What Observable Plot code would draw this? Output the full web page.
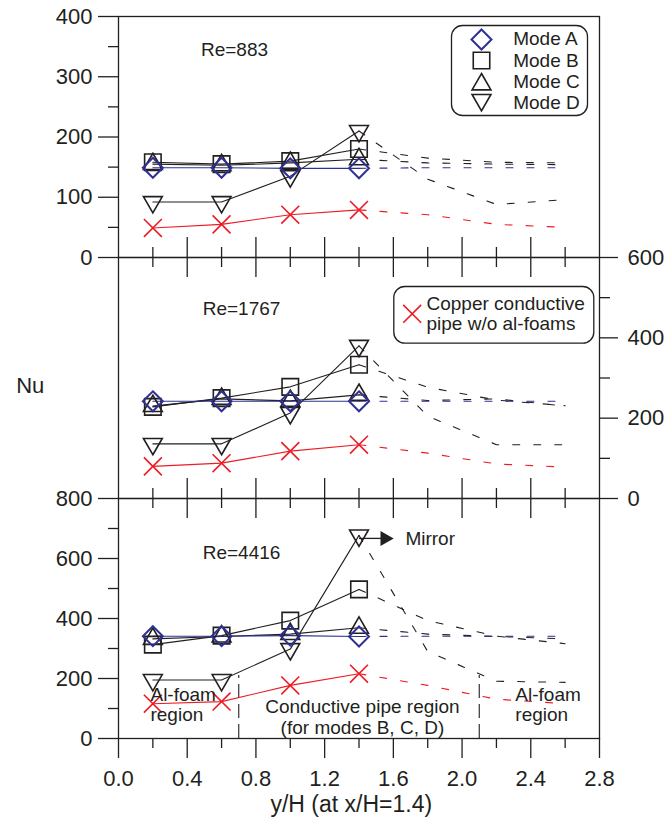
<!DOCTYPE html>
<html><head><meta charset="utf-8">
<script src="https://cdn.jsdelivr.net/npm/d3@7"></script>
<script src="https://cdn.jsdelivr.net/npm/@observablehq/plot@0.6"></script>
<style>
html,body{margin:0;padding:0;background:#fff;}
#chart{position:relative;width:664px;height:819px;}
#chart svg{position:absolute;left:0;overflow:visible !important;background:transparent !important;}
</style></head><body><div id="chart"></div>
<script>
// ---------- data ----------
const xMeasured = [0.2, 0.6, 1.0, 1.4];
const xMirrored = [1.4, 1.8, 2.2, 2.6];
const xMajorTicks = [0, 0.4, 0.8, 1.2, 1.6, 2.0, 2.4, 2.8];
const xMinorTicks = [0.2, 0.6, 1.0, 1.4, 1.8, 2.2, 2.6];
const xInnerMajor = [0.4, 0.8, 1.2, 1.6, 2.0, 2.4];
const legendLabels = ["Mode A", "Mode B", "Mode C", "Mode D"];
const copperLabel = ["Copper conductive", "pipe w/o al-foams"];

// Re = 883 (top panel)
const re883A = [149, 149, 148, 148];
const re883B = [158, 155, 160, 180];
const re883C = [155, 153, 157, 163];
const re883D = [92, 92, 135, 210];
const re883Cu = [49, 55, 71, 79];
const re883A_m = [148, 149, 149, 149];
const re883B_m = [180, 165, 158, 157];
const re883C_m = [163, 157, 155, 154];
const re883D_m = [210, 130, 88, 96];
const re883Cu_m = [79, 71, 55, 50];
const y883Major = [0, 100, 200, 300, 400];
const y883Minor = [50, 150, 250, 350];

// Re = 1767 (middle panel)
const re1767A = [242, 242, 242, 242];
const re1767B = [228, 250, 278, 333];
const re1767C = [230, 248, 243, 258];
const re1767D = [136, 136, 213, 380];
const re1767Cu = [80, 88, 118, 134];
const re1767A_m = [242, 242, 242, 242];
const re1767B_m = [333, 277, 245, 231];
const re1767C_m = [258, 244, 248, 230];
const re1767D_m = [380, 205, 134, 134];
const re1767Cu_m = [134, 113, 86, 78];
const y1767Major = [0, 200, 400, 600];
const y1767Minor = [100, 300, 500];

// Re = 4416 (bottom panel)
const re4416A = [341, 341, 343, 340];
const re4416B = [313, 343, 393, 497];
const re4416C = [332, 340, 348, 369];
const re4416D = [195, 195, 298, 677];
const re4416Cu = [116, 123, 177, 216];
const re4416A_m = [340, 341, 341, 341];
const re4416B_m = [497, 393, 341, 316];
const re4416C_m = [369, 348, 340, 332];
const re4416D_m = [677, 290, 191, 187];
const re4416Cu_m = [216, 177, 131, 116];
const y4416Major = [0, 200, 400, 600, 800];
const y4416Minor = [100, 300, 500, 700];

// annotations (data coordinates)
const regionDividers = [0.7, 2.1];
const regionDividerTop = 210;
const mirrorArrow = {x1: 1.4, x2: 1.56, y: 667};
const notes4416 = [
  {text: "Re=4416", x: 0.49, y: 620, anchor: "start"},
  {text: "Mirror", x: 1.67, y: 664, anchor: "start"},
  {text: "Conductive pipe region", x: 1.42, y: 106, anchor: "middle"},
  {text: "(for modes B, C, D)", x: 1.42, y: 36, anchor: "middle"},
  {text: "Al-foam", x: 0.186, y: 144, anchor: "start"},
  {text: "region", x: 0.186, y: 78, anchor: "start"},
  {text: "Al-foam", x: 2.31, y: 144, anchor: "start"},
  {text: "region", x: 2.31, y: 78, anchor: "start"}
];
const notes883 = [{text: "Re=883", x: 0.48, y: 345, anchor: "start"}];
const notes1767 = [{text: "Re=1767", x: 0.49, y: 471, anchor: "start"}];

// ---------- styles ----------
const FONT = "'Liberation Sans', Arial, Helvetica, sans-serif";
const INK = "#231f20";
const BLUE = "#2e3192";
const RED = "#ed1c24";
const AX = 1.3;

const triDown = {draw(ctx, size) {
  const s = Math.sqrt(size) * 0.6824, t = s / 2, u = s * Math.sqrt(3) / 2;
  ctx.moveTo(0, s); ctx.lineTo(u, -t); ctx.lineTo(-u, -t); ctx.closePath();
}};
const triRight = {draw(ctx, size) {
  const r = Math.sqrt(size / Math.PI);
  ctx.moveTo(r * 1.2, 0); ctx.lineTo(-r, -r * 1.25); ctx.lineTo(-r, r * 1.25); ctx.closePath();
}};

const styles = {
  A: {color: BLUE, symbol: "diamond2", r: 9, sw: 2},
  B: {color: INK, symbol: "square2", r: 10.5, sw: 1.6},
  C: {color: INK, symbol: "triangle2", r: 9, sw: 1.6},
  D: {color: INK, symbol: triDown, r: 9, sw: 1.6},
  Cu: {color: RED, symbol: "times", r: 8.2, sw: 1.6}
};
const order = ["B", "C", "D", "A", "Cu"];

const rows = (xs, vals) => xs.map((x, i) => ({x, y: vals[i]}));

function seriesMarks(measured, mirrored) {
  const m = [];
  for (const k of order) {
    const st = styles[k];
    m.push(Plot.line(rows(xMirrored, mirrored[k]), {x: "x", y: "y", stroke: st.color, strokeWidth: 1.1, strokeDasharray: "7,14"}));
  }
  for (const k of order) {
    const st = styles[k];
    m.push(Plot.line(rows(xMeasured, measured[k]), {x: "x", y: "y", stroke: st.color, strokeWidth: 1.1}));
  }
  for (const k of order) {
    const st = styles[k];
    m.push(Plot.dot(rows(xMeasured, measured[k]), {x: "x", y: "y", symbol: st.symbol, r: st.r, stroke: st.color, strokeWidth: st.sw, fill: "none"}));
  }
  return m;
}

function innerTicks(innerH, side) {
  const o = (len) => side === "bottom" ? {insetTop: innerH - len} : {insetBottom: innerH - len};
  return [
    Plot.tickX(xInnerMajor, {x: d => d, stroke: INK, strokeWidth: AX, ...o(20)}),
    Plot.tickX(xMinorTicks, {x: d => d, stroke: INK, strokeWidth: AX, ...o(10)})
  ];
}

function notesMarks(notes) {
  return ["start", "middle", "end"].map(a =>
    Plot.text(notes.filter(d => d.anchor === a), {x: "x", y: "y", text: "text", textAnchor: a, fontSize: 19, fill: INK, lineAnchor: "middle"}));
}

const W = 664, ML = 118, MR = 65;
const baseStyle = {fontFamily: FONT, fontSize: "22px", color: INK, background: "transparent", overflow: "visible"};

function leftAxis(major, minor) {
  return [
    Plot.axisY(major, {anchor: "left", tickSize: 20, tickPadding: 6, fontSize: 22, label: null, strokeWidth: AX, tickFormat: d3.format("d"), fill: INK}),
    Plot.axisY(minor, {anchor: "left", tickSize: 10, label: null, strokeWidth: AX, tickFormat: () => ""})
  ];
}

// ---------- panel 1 : Re=883 ----------
const p1 = Plot.plot({
  width: W, height: 257, marginLeft: ML, marginRight: MR, marginTop: 16, marginBottom: 0,
  x: {domain: [0, 2.8], axis: null},
  y: {domain: [0, 400]},
  style: baseStyle,
  marks: [
    ...leftAxis(y883Major, y883Minor),
    ...innerTicks(241, "bottom"),
    ...seriesMarks({A: re883A, B: re883B, C: re883C, D: re883D, Cu: re883Cu},
                   {A: re883A_m, B: re883B_m, C: re883C_m, D: re883D_m, Cu: re883Cu_m}),
    ...notesMarks(notes883),
    Plot.frame({stroke: INK, strokeWidth: AX}),
    Plot.frame({rx: 11, insetLeft: 333, insetRight: 12, insetTop: 9, insetBottom: 142, stroke: INK, strokeWidth: AX, fill: "white"}),
    ...["A", "B", "C", "D"].map((k, i) => Plot.dot([legendLabels[i]], {frameAnchor: "top-left", dx: 363, dy: [23, 44, 67.9, 83.4][i], symbol: styles[k].symbol, r: styles[k].r, stroke: styles[k].color, strokeWidth: styles[k].sw, fill: "none"})),
    ...legendLabels.map((t, i) => Plot.text([t], {frameAnchor: "top-left", dx: 394.7, dy: 22.9 + i * 21.1, textAnchor: "start", lineAnchor: "middle", fontSize: 19, fill: INK}))
  ]
});

// ---------- panel 2 : Re=1767 ----------
const p2 = Plot.plot({
  width: W, height: 241, marginLeft: ML, marginRight: MR, marginTop: 0, marginBottom: 0,
  x: {domain: [0, 2.8], axis: null},
  y: {domain: [0, 600]},
  style: baseStyle,
  marks: [
    Plot.axisY(y1767Major, {anchor: "right", tickSize: 18, tickPadding: 10, fontSize: 22, label: null, strokeWidth: AX, tickFormat: d3.format("d"), fill: INK}),
    Plot.axisY(y1767Minor, {anchor: "right", tickSize: 10, label: null, strokeWidth: AX, tickFormat: () => ""}),
    ...innerTicks(241, "bottom"),
    ...innerTicks(241, "top"),
    ...seriesMarks({A: re1767A, B: re1767B, C: re1767C, D: re1767D, Cu: re1767Cu},
                   {A: re1767A_m, B: re1767B_m, C: re1767C_m, D: re1767D_m, Cu: re1767Cu_m}),
    ...notesMarks(notes1767),
    Plot.frame({stroke: INK, strokeWidth: AX}),
    Plot.frame({rx: 11, insetLeft: 275.3, insetRight: 5.7, insetTop: 29, insetBottom: 155.3, stroke: INK, strokeWidth: AX, fill: "white"}),
    Plot.dot([copperLabel[0]], {frameAnchor: "top-left", dx: 293.7, dy: 56.3, symbol: "times", r: styles.Cu.r, stroke: RED, strokeWidth: styles.Cu.sw}),
    ...copperLabel.map((t, i) => Plot.text([t], {frameAnchor: "top-left", dx: 308, dy: 46.6 + i * 19.6, textAnchor: "start", lineAnchor: "middle", fontSize: 19, fill: INK})),
    Plot.text(["Nu"], {frameAnchor: "left", dx: -88.3, dy: 8.3, textAnchor: "middle", lineAnchor: "middle", fontSize: 22, fill: INK})
  ]
});

// ---------- panel 3 : Re=4416 ----------
const p3 = Plot.plot({
  width: W, height: 321, marginLeft: ML, marginRight: MR, marginTop: 0, marginBottom: 81,
  x: {domain: [0, 2.8]},
  y: {domain: [0, 800]},
  style: baseStyle,
  marks: [
    ...leftAxis(y4416Major, y4416Minor),
    Plot.axisX(xMajorTicks, {anchor: "bottom", tickSize: 20, tickPadding: 12, fontSize: 22, label: null, strokeWidth: AX, tickFormat: d3.format(".1f"), fill: INK}),
    Plot.axisX(xMinorTicks, {anchor: "bottom", tickSize: 10, label: null, strokeWidth: AX, tickFormat: () => ""}),
    ...innerTicks(240, "top"),
    Plot.ruleX(regionDividers, {x: d => d, y1: 0, y2: regionDividerTop, stroke: INK, strokeWidth: 1.1, strokeDasharray: "14,6"}),
    ...seriesMarks({A: re4416A, B: re4416B, C: re4416C, D: re4416D, Cu: re4416Cu},
                   {A: re4416A_m, B: re4416B_m, C: re4416C_m, D: re4416D_m, Cu: re4416Cu_m}),
    Plot.link([mirrorArrow], {x1: "x1", x2: "x2", y1: "y", y2: "y", stroke: INK, strokeWidth: 1.3}),
    Plot.dot([mirrorArrow], {x: "x2", y: "y", symbol: triRight, r: 6, fill: INK, stroke: "none"}),
    ...notesMarks(notes4416),
    Plot.frame({stroke: INK, strokeWidth: AX}),
    Plot.text(["y/H (at x/H=1.4)"], {frameAnchor: "bottom", dx: -7.7, dy: 66.6, textAnchor: "middle", lineAnchor: "middle", fontSize: 23, fill: INK})
  ]
});

const chart = document.getElementById("chart");
p1.style.top = "0px"; p2.style.top = "257px"; p3.style.top = "498px";
chart.append(p1, p2, p3);
</script></body></html>
